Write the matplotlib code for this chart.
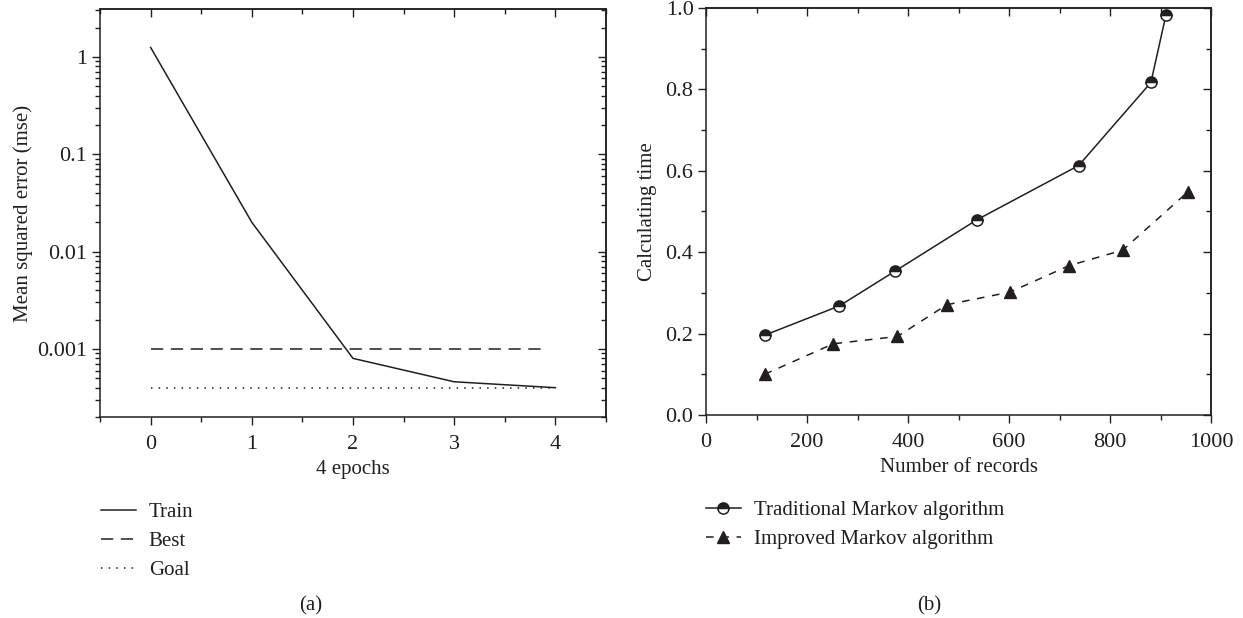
import matplotlib
matplotlib.use("Agg")
import matplotlib.pyplot as plt
from matplotlib import ticker

# ---------- DATA ----------
epochs = [0, 1, 2, 3, 4]
train_mse = [1.25, 0.02, 0.0008, 0.00046, 0.0004]
best_x = [0, 3.9]
best_mse = [0.001, 0.001]
goal_x = [0, 4]
goal_mse = [0.0004, 0.0004]

trad_records = [116, 264, 375, 537, 738, 881, 911]
trad_time = [0.196, 0.268, 0.354, 0.480, 0.613, 0.817, 0.984]
impr_records = [116, 252, 379, 477, 602, 719, 825, 954]
impr_time = [0.100, 0.175, 0.193, 0.271, 0.302, 0.367, 0.405, 0.548]

INK = "#231f20"
TICK_FS = 16
LABEL_FS = 15
plt.rcParams["font.family"] = ["Liberation Serif", "DejaVu Serif"]
plt.rcParams["font.size"] = LABEL_FS
plt.rcParams["text.color"] = INK
plt.rcParams["axes.labelcolor"] = INK
plt.rcParams["xtick.color"] = INK
plt.rcParams["ytick.color"] = INK
plt.rcParams["axes.edgecolor"] = INK

W, H = 1243, 618
fig = plt.figure(figsize=(W / 100, H / 100), dpi=100)


def box(x0, y0, x1, y1):
    return [x0 / W, 1 - y1 / H, (x1 - x0) / W, (y1 - y0) / H]


def style_ticks(ax):
    ax.tick_params(which="major", direction="out", length=6, width=1, labelsize=TICK_FS)
    ax.tick_params(which="minor", direction="out", length=3.5, width=1)
    ax.tick_params(axis="x", pad=7)
    ax.tick_params(axis="y", pad=3)
    for s in ax.spines.values():
        s.set_linewidth(1.1)
    # mirrored ticks pointing into the frame
    top = ax.secondary_xaxis("top")
    right = ax.secondary_yaxis("right")
    for sec in (top, right):
        sec.tick_params(which="major", direction="in", length=6, width=1)
        sec.tick_params(which="minor", direction="in", length=3.5, width=1)
        sec.spines[:].set_linewidth(1.1)
    top.set_xticks(ax.get_xticks())
    top.xaxis.set_minor_locator(ax.xaxis.get_minor_locator())
    top.set_xticklabels([])
    right.yaxis.set_major_locator(ax.yaxis.get_major_locator())
    right.yaxis.set_minor_locator(ax.yaxis.get_minor_locator())
    right.yaxis.set_major_formatter(ticker.NullFormatter())
    right.yaxis.set_minor_formatter(ticker.NullFormatter())


# ---------- (a) ----------
ax1 = fig.add_axes(box(100, 9, 606, 417))
l_train, = ax1.plot(epochs, train_mse, color=INK, lw=1.1, label="Train")
l_best, = ax1.plot(best_x, best_mse, color=INK, lw=1.1, dashes=(8, 5), label="Best")
l_goal, = ax1.plot(goal_x, goal_mse, color=INK, lw=1.1, dashes=(1, 4), label="Goal")
ax1.set_yscale("log")
ax1.set_ylim(2e-4, 3.1)
ax1.set_xlim(-0.5, 4.5)
ax1.set_xticks(epochs)
ax1.xaxis.set_minor_locator(ticker.MultipleLocator(0.5))
ax1.yaxis.set_major_locator(ticker.FixedLocator([0.001, 0.01, 0.1, 1]))
ax1.yaxis.set_major_formatter(ticker.FuncFormatter(lambda v, p: f"{v:g}"))
ax1.yaxis.set_minor_locator(ticker.LogLocator(base=10, subs=range(2, 10), numticks=20))
ax1.yaxis.set_minor_formatter(ticker.NullFormatter())
ax1.set_xlabel("4 epochs", fontsize=LABEL_FS, labelpad=4)
ax1.set_ylabel("Mean squared error (mse)", fontsize=LABEL_FS, labelpad=3)
style_ticks(ax1)
ax1.legend(handles=[l_train, l_best, l_goal], loc="upper left",
           bbox_to_anchor=(82 / W, 1 - 484 / H), bbox_transform=fig.transFigure,
           frameon=False, fontsize=LABEL_FS, handlelength=1.7, handletextpad=0.6,
           labelspacing=0.45)
fig.text(311 / W, 1 - 606 / H, "(a)", ha="center", va="center", fontsize=LABEL_FS)

# ---------- (b) ----------
ax2 = fig.add_axes(box(706, 8, 1211, 415))
l_trad, = ax2.plot(trad_records, trad_time, color=INK, lw=1.1, marker="o",
                   markersize=8, fillstyle="top", markerfacecolor=INK,
                   markerfacecoloralt="white", markeredgecolor=INK,
                   markeredgewidth=1.1, label="Traditional Markov algorithm")
l_impr, = ax2.plot(impr_records, impr_time, color=INK, lw=1.1, dashes=(5, 5),
                   marker="^", markersize=9, markerfacecolor=INK,
                   markeredgecolor=INK, label="Improved Markov algorithm")
ax2.set_xlim(0, 1000)
ax2.set_ylim(0, 1.0)
ax2.set_xticks([0, 200, 400, 600, 800, 1000])
ax2.xaxis.set_minor_locator(ticker.MultipleLocator(100))
ax2.set_yticks([0.0, 0.2, 0.4, 0.6, 0.8, 1.0])
ax2.yaxis.set_major_formatter(ticker.FormatStrFormatter("%.1f"))
ax2.yaxis.set_minor_locator(ticker.MultipleLocator(0.1))
ax2.set_xlabel("Number of records", fontsize=LABEL_FS, labelpad=4)
ax2.set_ylabel("Calculating time", fontsize=LABEL_FS, labelpad=6)
style_ticks(ax2)
ax2.legend(handles=[l_trad, l_impr], loc="upper left",
           bbox_to_anchor=(687 / W, 1 - 482 / H), bbox_transform=fig.transFigure,
           frameon=False, fontsize=LABEL_FS, handlelength=1.7, handletextpad=0.6,
           labelspacing=0.45)
fig.text(929 / W, 1 - 606 / H, "(b)", ha="center", va="center", fontsize=LABEL_FS)

fig.savefig("out.png", dpi=100)
